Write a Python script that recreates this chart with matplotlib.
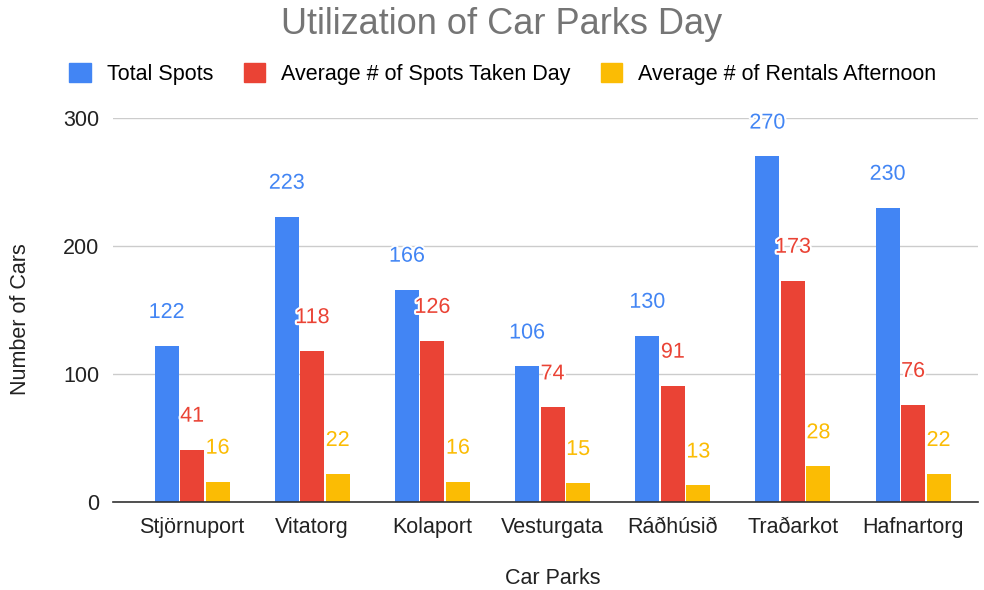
import matplotlib
matplotlib.use("Agg")
import matplotlib.pyplot as plt
import matplotlib.patheffects as pe
import numpy as np
from matplotlib.patches import Patch

plt.rcParams['font.family'] = ['Liberation Sans', 'DejaVu Sans']

categories = ["Stjörnuport", "Vitatorg", "Kolaport", "Vesturgata", "Ráðhúsið", "Traðarkot", "Hafnartorg"]
series_names = ["Total Spots", "Average # of Spots Taken Day", "Average # of Rentals Afternoon"]
total_spots = [122, 223, 166, 106, 130, 270, 230]
spots_taken = [41, 118, 126, 74, 91, 173, 76]
rentals_afternoon = [16, 22, 16, 15, 13, 28, 22]
yticks = [0, 100, 200, 300]
colors = ["#4285F4", "#EA4335", "#FBBC04"]

fig = plt.figure(figsize=(9.84, 5.9), dpi=100)
ax = fig.add_axes([113/984, 88/590, (978-113)/984, (502-118)/590])

x = np.arange(len(categories))
width = 0.2
offset = 0.212
series = [total_spots, spots_taken, rentals_afternoon]
for i, (vals, c) in enumerate(zip(series, colors)):
    pos = x + (i - 1) * offset
    ax.bar(pos, vals, width=width, color=c, zorder=3)
    for px, v in zip(pos, vals):
        ax.annotate(str(v), (px, v), xytext=(0, 24), textcoords="offset points",
                    ha="center", va="center", fontsize=15.5, color=c, zorder=5,
                    annotation_clip=False,
                    path_effects=[pe.withStroke(linewidth=3, foreground="white")])

ax.set_xlim(-0.658, 6.54)
ax.set_ylim(0, 300)
ax.set_yticks(yticks)
ax.set_yticklabels([str(t) for t in yticks], fontsize=15.5, color="#222222")
ax.set_xticks(x)
ax.set_xticklabels(categories, fontsize=15.5, color="#222222")
ax.tick_params(axis="both", length=0)
ax.tick_params(axis="x", pad=11)
ax.tick_params(axis="y", pad=10)
ax.grid(axis="y", color="#cccccc", linewidth=1, zorder=0)
for s in ["top", "right", "left"]:
    ax.spines[s].set_visible(False)
ax.spines["bottom"].set_color("#333333")
ax.spines["bottom"].set_linewidth(1.2)
ax.spines["bottom"].set_zorder(4)

fig.text(21/984, 1 - 319/590, "Number of Cars", rotation=90, ha="center", va="center",
         fontsize=15.5, color="#222222")
fig.text(553/984, 1 - 578/590, "Car Parks", ha="center", va="center",
         fontsize=15.5, color="#222222")

fig.text(502/984, 1 - 24/590, "Utilization of Car Parks Day", ha="center", va="center",
         fontsize=26, color="#757575")

handles = [Patch(facecolor=c, edgecolor=c) for c in colors]
fig.legend(handles, series_names, loc="center", bbox_to_anchor=(503/984, 1 - 74/590),
           ncol=3, frameon=False, fontsize=15.5, handlelength=1.0, handleheight=1.0,
           columnspacing=1.4, handletextpad=0.75)

fig.savefig("out.png", dpi=100)
